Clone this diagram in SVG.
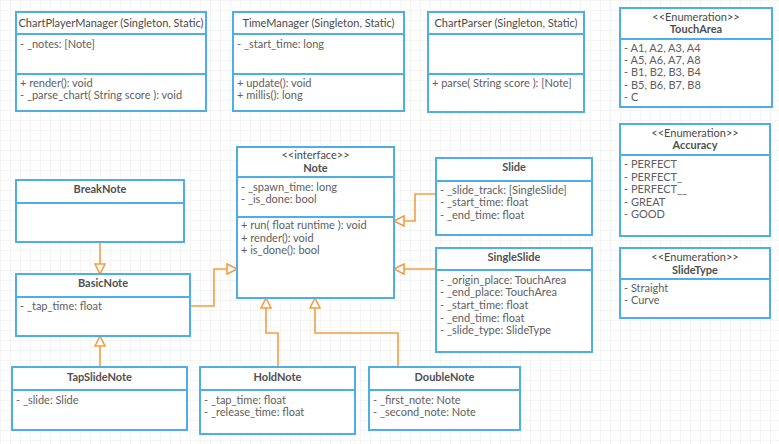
<svg xmlns="http://www.w3.org/2000/svg" width="779" height="444" viewBox="0 0 779 444">
<defs>
<pattern id="grid" width="10" height="10" patternUnits="userSpaceOnUse">
<path d="M10,0 L0,0 L0,10" fill="none" stroke="#ececec" stroke-width="1"/>
</pattern>
<marker id="tri" viewBox="0 0 12 12" refX="11" refY="6" markerWidth="12" markerHeight="12" markerUnits="userSpaceOnUse" orient="auto">
<path d="M1,1 L11,6 L1,11 z" fill="#ffffff" stroke="#f59d3f" stroke-width="1.6"/>
</marker>
</defs>
<style>
.box{fill:#ffffff;stroke:#4daee8;stroke-width:2}
.div{stroke:#4daee8;stroke-width:2;fill:none}
text{font-family:Lato,"Open Sans","Liberation Sans",sans-serif;font-size:11px;fill:#606060}
.h{text-anchor:middle;fill:#4a4a4a}
.b{font-weight:bold;fill:#505050}
.c{fill:none;stroke:#f59d3f;stroke-width:1.6;marker-end:url(#tri)}
</style>
<rect width="779" height="444" fill="#ffffff"/>
<rect width="779" height="444" fill="url(#grid)"/>

<g id="connectors">
<path class="c" d="M100,242 L100,274"/>
<path class="c" d="M100,367 L100,336"/>
<path class="c" d="M190,306 L214,306 L214,269 L237,269"/>
<path class="c" d="M436,194 L415,194 L415,221 L394,221"/>
<path class="c" d="M436,269 L394,269"/>
<path class="c" d="M278,367 L278,333 L266,333 L266,298"/>
<path class="c" d="M398,367 L398,333 L315,333 L315,298"/>
</g>

<g id="ChartPlayerManager">
<rect class="box" x="16" y="12" width="190" height="99"/>
<path class="div" d="M16,34 H206 M16,74 H206"/>
<text class="h" x="111" y="27">ChartPlayerManager (Singleton, Static)</text>
<text x="20" y="48">- _notes: [Note]</text>
<text x="20" y="87">+ render(): void</text>
<text x="20" y="99">- _parse_chart( String score ): void</text>
</g>

<g id="TimeManager">
<rect class="box" x="233" y="12" width="171" height="99"/>
<path class="div" d="M233,34 H404 M233,74 H404"/>
<text class="h" x="318.5" y="27">TimeManager (Singleton, Static)</text>
<text x="237" y="48">- _start_time: long</text>
<text x="237" y="87">+ update(): void</text>
<text x="237" y="99">+ millis(): long</text>
</g>

<g id="ChartParser">
<rect class="box" x="428" y="12" width="156" height="100"/>
<path class="div" d="M428,34 H584 M428,74 H584"/>
<text class="h" x="506" y="27">ChartParser (Singleton, Static)</text>
<text x="432" y="87">+ parse( String score ): [Note]</text>
</g>

<g id="TouchArea">
<rect class="box" x="620" y="8" width="152" height="99"/>
<path class="div" d="M620,39 H772"/>
<text class="h" x="696" y="21">&lt;&lt;Enumeration&gt;&gt;</text>
<text class="h b" x="696" y="33">TouchArea</text>
<text x="624" y="52">- A1, A2, A3, A4</text>
<text x="624" y="64">- A5, A6, A7, A8</text>
<text x="624" y="76">- B1, B2, B3, B4</text>
<text x="624" y="89">- B5, B6, B7, B8</text>
<text x="624" y="101">- C</text>
</g>

<g id="Accuracy">
<rect class="box" x="620" y="124" width="150" height="112"/>
<path class="div" d="M620,155 H770"/>
<text class="h" x="695" y="137">&lt;&lt;Enumeration&gt;&gt;</text>
<text class="h b" x="695" y="149">Accuracy</text>
<text x="624" y="168">- PERFECT</text>
<text x="624" y="181">- PERFECT_</text>
<text x="624" y="193">- PERFECT__</text>
<text x="624" y="206">- GREAT</text>
<text x="624" y="218">- GOOD</text>
</g>

<g id="SlideType">
<rect class="box" x="620" y="248" width="150" height="70"/>
<path class="div" d="M620,279 H770"/>
<text class="h" x="695" y="261">&lt;&lt;Enumeration&gt;&gt;</text>
<text class="h b" x="695" y="273.5">SlideType</text>
<text x="624" y="292">- Straight</text>
<text x="624" y="304">- Curve</text>
</g>

<g id="Note">
<rect class="box" x="237" y="147" width="157" height="151"/>
<path class="div" d="M237,177 H394 M237,217 H394"/>
<text class="h" x="315.5" y="159">&lt;&lt;interface&gt;&gt;</text>
<text class="h b" x="315.5" y="172">Note</text>
<text x="241" y="191">- _spawn_time: long</text>
<text x="241" y="203">- _is_done: bool</text>
<text x="241" y="229">+ run( float runtime ): void</text>
<text x="241" y="242">+ render(): void</text>
<text x="241" y="254">+ is_done(): bool</text>
</g>

<g id="Slide">
<rect class="box" x="436" y="158" width="156" height="77"/>
<path class="div" d="M436,181 H592"/>
<text class="h b" x="514" y="171">Slide</text>
<text x="440" y="194">- _slide_track: [SingleSlide]</text>
<text x="440" y="206">- _start_time: float</text>
<text x="440" y="219">- _end_time: float</text>
</g>

<g id="SingleSlide">
<rect class="box" x="436" y="248" width="156" height="104"/>
<path class="div" d="M436,270 H592"/>
<text class="h b" x="514" y="261">SingleSlide</text>
<text x="440" y="284">- _origin_place: TouchArea</text>
<text x="440" y="296">- _end_place: TouchArea</text>
<text x="440" y="309">- _start_time: float</text>
<text x="440" y="322">- _end_time: float</text>
<text x="440" y="334">- _slide_type: SlideType</text>
</g>

<g id="BreakNote">
<rect class="box" x="16" y="180" width="168" height="62"/>
<path class="div" d="M16,203 H184"/>
<text class="h b" x="100" y="193">BreakNote</text>
</g>

<g id="BasicNote">
<rect class="box" x="16" y="274" width="174" height="62"/>
<path class="div" d="M16,297 H190"/>
<text class="h b" x="103" y="287">BasicNote</text>
<text x="20" y="310">- _tap_time: float</text>
</g>

<g id="TapSlideNote">
<rect class="box" x="12" y="367" width="175" height="63"/>
<path class="div" d="M12,390 H187"/>
<text class="h b" x="99.5" y="381">TapSlideNote</text>
<text x="16" y="404">- _slide: Slide</text>
</g>

<g id="HoldNote">
<rect class="box" x="200" y="367" width="155" height="67"/>
<path class="div" d="M200,390 H355"/>
<text class="h b" x="277.5" y="381">HoldNote</text>
<text x="204" y="404">- _tap_time: float</text>
<text x="204" y="416">- _release_time: float</text>
</g>

<g id="DoubleNote">
<rect class="box" x="369" y="367" width="151" height="63"/>
<path class="div" d="M369,390 H520"/>
<text class="h b" x="444.5" y="381">DoubleNote</text>
<text x="373" y="404">- _first_note: Note</text>
<text x="373" y="416">- _second_note: Note</text>
</g>
</svg>
